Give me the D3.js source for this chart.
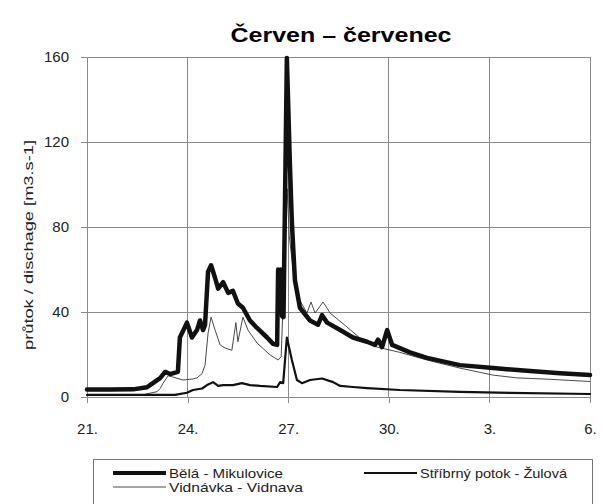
<!DOCTYPE html>
<html>
<head>
<meta charset="utf-8">
<script src="https://cdn.jsdelivr.net/npm/d3@7"></script>
<style>
  html, body { margin: 0; padding: 0; background: #fff; }
  svg { display: block; font-family: "Liberation Sans", Arial, sans-serif; }
</style>
</head>
<body>
<svg id="chart" width="603" height="504"></svg>
<script>
// Discharge, 21 June – 6 July; time is in days from 21 June 00:00
const tickDays = [0, 3, 6, 9, 12, 15];
const tickLabels = ["21.", "24.", "27.", "30.", "3.", "6."];
const yTicks = [0, 40, 80, 120, 160];

const seriesNames = ["Bělá - Mikulovice", "Stříbrný potok - Žulová", "Vidnávka - Vidnava"];

// Bělá - Mikulovice
const belaT = [0, 0.69, 1.37, 1.79, 1.88, 2.18, 2.33, 2.48, 2.71, 2.77, 2.92, 2.98, 3.13, 3.28, 3.37, 3.46, 3.52, 3.61, 3.70, 3.82, 3.91, 4.06, 4.21, 4.35, 4.50, 4.65, 4.86, 5.07, 5.37, 5.55, 5.67, 5.70, 5.74, 5.78, 5.82, 5.86, 5.96, 6.05, 6.11, 6.20, 6.35, 6.65, 6.89, 7.01, 7.16, 7.55, 7.93, 8.35, 8.59, 8.68, 8.80, 8.95, 9.10, 9.33, 9.63, 10.14, 11.12, 12.11, 13.12, 14.11, 15.0];
const belaQ = [3.5, 3.5, 3.6, 4.6, 5.6, 8.9, 11.8, 10.8, 11.8, 28, 33, 35, 28, 31.5, 36, 31.5, 33.9, 59, 62, 56, 51, 54, 49, 50, 44, 42, 36, 32.5, 28, 25, 24.5, 60, 40, 60, 38, 37.6, 159.5, 110, 82, 55, 42, 36, 34, 38.5, 35, 31.5, 28, 26, 24.5, 27, 23.5, 31.5, 24.5, 23, 21, 18.4, 15, 13.6, 12.3, 11.2, 10.3];

// Stříbrný potok - Žulová
const stribT = [0, 2.62, 2.98, 3.16, 3.43, 3.58, 3.76, 3.91, 4.06, 4.35, 4.62, 4.86, 5.16, 5.67, 5.76, 5.85, 5.96, 6.11, 6.26, 6.41, 6.65, 7.01, 7.34, 7.55, 7.93, 8.35, 9.33, 11.12, 12.62, 15.0];
const stribQ = [1.0, 1.0, 2.0, 3.3, 4.0, 5.6, 7.0, 5.2, 5.6, 5.6, 6.5, 5.6, 5.2, 4.7, 7.0, 6.5, 28, 17.4, 8.0, 6.5, 8.0, 8.7, 7.0, 5.2, 4.7, 4.2, 3.3, 2.4, 1.9, 1.4];

// Vidnávka - Vidnava
const vidT = [0, 1.67, 1.79, 2.09, 2.18, 2.27, 2.42, 2.56, 2.86, 3.16, 3.28, 3.43, 3.52, 3.61, 3.70, 3.82, 3.97, 4.12, 4.32, 4.44, 4.50, 4.65, 4.80, 5.07, 5.46, 5.70, 5.79, 5.97, 6.03, 6.14, 6.29, 6.56, 6.68, 6.80, 7.04, 7.25, 7.75, 8.14, 8.65, 9.33, 10.14, 11.12, 12.11, 12.82, 13.60, 15.0];
const vidQ = [1.0, 1.0, 1.5, 2.5, 4.0, 6.5, 10, 9.4, 8.0, 8.5, 9.0, 11, 15, 30, 37.6, 31.5, 24.5, 23, 22, 35, 26, 37.6, 31.5, 25.4, 19.8, 17.4, 19, 98, 76, 61, 47, 39.5, 44.7, 39.5, 44.7, 39.5, 33, 27.7, 23.5, 21, 17.4, 13.6, 10.3, 9.0, 8.5, 7.3];

const svg = d3.select("#chart");
const plot = { left: 87, right: 590, top: 57, bottom: 397 };
const gridColor = "#8a8a8a";

const x = d3.scaleLinear().domain([0, 15]).range([plot.left, plot.right]);
const y = d3.scaleLinear().domain([0, 160]).range([plot.bottom, plot.top]);

// title
svg.append("text")
  .attr("x", 341).attr("y", 42)
  .attr("text-anchor", "middle")
  .attr("font-size", 21).attr("font-weight", "bold")
  .attr("textLength", 221).attr("lengthAdjust", "spacingAndGlyphs")
  .text("Červen – červenec");

// grid
const grid = svg.append("g");
grid.selectAll("line.h").data(yTicks).join("line")
  .attr("x1", plot.left).attr("x2", plot.right)
  .attr("y1", d => y(d)).attr("y2", d => y(d))
  .attr("stroke", gridColor).attr("stroke-width", 1).attr("shape-rendering", "crispEdges");
grid.selectAll("line.v").data(tickDays).join("line")
  .attr("x1", d => x(d)).attr("x2", d => x(d))
  .attr("y1", plot.top).attr("y2", plot.bottom)
  .attr("stroke", gridColor).attr("stroke-width", 1).attr("shape-rendering", "crispEdges");

// axes
const yAxis = d3.axisLeft(y).tickValues(yTicks).tickSize(6).tickPadding(12);
const gy = svg.append("g").attr("transform", `translate(${plot.left},0)`).call(yAxis);
const xAxis = d3.axisBottom(x).tickValues(tickDays).tickSize(6).tickPadding(20)
  .tickFormat((d, i) => tickLabels[i]);
const gx = svg.append("g").attr("transform", `translate(0,${plot.bottom})`).call(xAxis);
[gx, gy].forEach(g => {
  g.select(".domain").attr("stroke", gridColor).attr("shape-rendering", "crispEdges");
  g.selectAll(".tick line").attr("stroke", gridColor).attr("shape-rendering", "crispEdges");
  g.selectAll("text").attr("font-size", 15).attr("fill", "#222")
    .attr("font-family", "Liberation Sans, Arial, sans-serif");
});

// y axis title
svg.append("text")
  .attr("transform", "translate(28,245) rotate(-90)")
  .attr("text-anchor", "middle").attr("dominant-baseline", "central")
  .attr("font-size", 13).attr("fill", "#222")
  .attr("textLength", 210).attr("lengthAdjust", "spacingAndGlyphs")
  .text("průtok / dischage [m3.s-1]");

// series
const line = d3.line().x(d => x(d[0])).y(d => y(d[1]));
const zip = (t, q) => t.map((v, i) => [v, q[i]]);
const styles = [
  { data: zip(vidT, vidQ), width: 1, color: "#4a4a4a" },
  { data: zip(stribT, stribQ), width: 2.2, color: "#111" },
  { data: zip(belaT, belaQ), width: 4.5, color: "#111" }
];
svg.append("g").selectAll("path").data(styles).join("path")
  .attr("d", d => line(d.data))
  .attr("fill", "none")
  .attr("stroke", d => d.color)
  .attr("stroke-width", d => d.width)
  .attr("stroke-linejoin", "round").attr("stroke-linecap", "round");

// legend
const lg = svg.append("g");
lg.append("rect").attr("x", 93.5).attr("y", 459.5).attr("width", 499).attr("height", 60)
  .attr("fill", "#fff").attr("stroke", "#777").attr("stroke-width", 1);
const legendItems = [
  { name: seriesNames[0], x: 113, y: 473, width: 4, color: "#111", len: 114 },
  { name: seriesNames[1], x: 364, y: 473, width: 2, color: "#111", len: 147 },
  { name: seriesNames[2], x: 113, y: 487, width: 1, color: "#4a4a4a", len: 134 }
];
const li = lg.selectAll("g").data(legendItems).join("g");
li.append("line")
  .attr("x1", d => d.x).attr("x2", d => d.x + 53)
  .attr("y1", d => d.y).attr("y2", d => d.y)
  .attr("stroke", d => d.color).attr("stroke-width", d => d.width);
li.append("text")
  .attr("x", d => d.x + 56).attr("y", d => d.y)
  .attr("dominant-baseline", "central")
  .attr("font-size", 13).attr("fill", "#222")
  .attr("textLength", d => d.len).attr("lengthAdjust", "spacingAndGlyphs")
  .text(d => d.name);
</script>
</body>
</html>
